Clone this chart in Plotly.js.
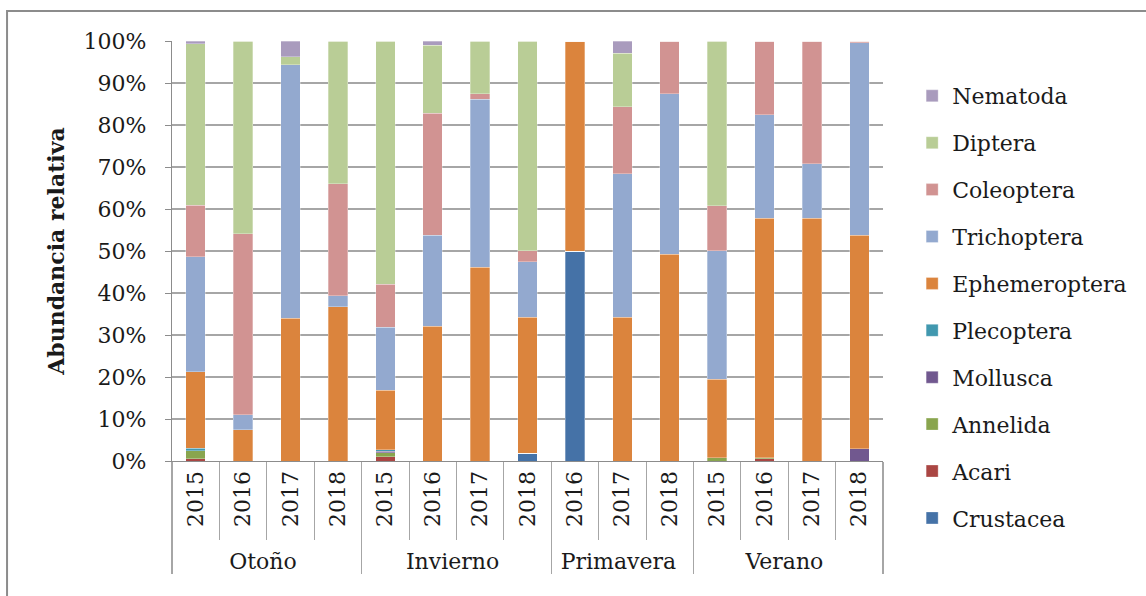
<!DOCTYPE html>
<html>
<head>
<meta charset="utf-8">
<script src="https://cdn.plot.ly/plotly-3.0.1.min.js"></script>
<style>html,body{margin:0;padding:0;background:#fff;}#chart{width:1146px;height:596px;}</style>
</head>
<body>
<div id="chart"></div>
<script>
const seasons = ["Otoño","Otoño","Otoño","Otoño","Invierno","Invierno","Invierno","Invierno","Primavera","Primavera","Primavera","Verano","Verano","Verano","Verano"];
const years = ["2015","2016","2017","2018","2015","2016","2017","2018","2016","2017","2018","2015","2016","2017","2018"];

const Crustacea     = [0,0,0,0, 0,0,0,1.8, 50,0,0, 0,0,0,0];
const Acari         = [0.5,0,0,0, 1.0,0,0,0, 0,0,0, 0,0.5,0,0];
const Annelida      = [2.0,0,0,0, 1.0,0,0,0, 0,0,0, 0.8,0.3,0,0];
const Mollusca      = [0,0,0,0, 0.3,0,0,0, 0,0,0, 0,0,0,2.9];
const Plecoptera    = [0.5,0,0,0, 0.4,0,0,0, 0,0,0, 0,0,0,0];
const Ephemeroptera = [18.2,7.4,34.0,36.7, 14.2,32.1,46.1,32.4, 50,34.2,49.2, 18.7,57.0,57.8,50.9];
const Trichoptera   = [27.4,3.6,60.4,2.7, 14.9,21.7,40.0,13.2, 0,34.2,38.2, 30.6,24.7,13.0,45.8];
const Coleoptera    = [12.3,43.1,0,26.6, 10.3,29.0,1.3,2.7, 0,15.9,12.6, 10.7,17.5,29.2,0.4];
const Diptera       = [38.4,45.9,1.9,34.0, 57.9,16.2,12.6,49.9, 0,12.8,0, 39.2,0,0,0];
const Nematoda      = [0.7,0,3.7,0, 0,1.0,0,0, 0,2.9,0, 0,0,0,0];

const seriesNames = ["Crustacea","Acari","Annelida","Mollusca","Plecoptera","Ephemeroptera","Trichoptera","Coleoptera","Diptera","Nematoda"];
const seriesValues = [Crustacea,Acari,Annelida,Mollusca,Plecoptera,Ephemeroptera,Trichoptera,Coleoptera,Diptera,Nematoda];
const seriesColors = ["#4572A7","#AA4643","#89A54E","#71588F","#4198AF","#DB843D","#93A9CF","#D19392","#B9CD96","#A99BBD"];

const FONT = "DejaVu Serif, Liberation Serif, serif";

const traces = seriesNames.map((n,i)=>({
  type:"bar",
  name:n,
  x:[seasons, years],
  y:seriesValues[i],
  marker:{color:seriesColors[i], line:{color:"rgba(255,255,255,0.5)", width:0.6}},
  legendgroup:n,
  legendrank:100 - i,
  hoverinfo:"name+y"
}));

const layout = {
  width:1146, height:596,
  margin:{l:172, r:263, t:41, b:135},
  paper_bgcolor:"#fff", plot_bgcolor:"#fff",
  barmode:"stack",
  bargap:0.59,
  font:{family:FONT, size:22, color:"#1a1a1a"},
  showlegend:true,
  legend:{
    x:1.041, y:0.919, xanchor:"left", yanchor:"top",
    traceorder:"grouped",
    tracegroupgap:15.3,
    maxheight:540,
    font:{family:FONT, size:22, color:"#1a1a1a"},
    itemwidth:30
  },
  yaxis:{
    range:[0,100], dtick:10, ticksuffix:"%",
    showgrid:true, gridcolor:"#a6a6a6", gridwidth:1.3,
    showline:true, linecolor:"#8c8c8c", linewidth:1.3,
    ticks:"outside", ticklen:6, tickcolor:"#8c8c8c",
    ticklabelstandoff:14,
    zeroline:false,
    tickfont:{family:FONT, size:22, color:"#1a1a1a"},
    title:{text:"<b>Abundancia relativa</b>", font:{family:FONT, size:22, color:"#1a1a1a"}, standoff:12}
  },
  xaxis:{
    type:"multicategory",
    showline:true, linecolor:"#8c8c8c", linewidth:1.3,
    ticks:"outside", ticklen:78, tickcolor:"#a6a6a6",
    tickangle:-90,
    showdividers:true, dividercolor:"#a6a6a6", dividerwidth:1.3,
    tickfont:{family:FONT, size:22, color:"#1a1a1a"}
  },
  shapes:[{
    type:"rect", xref:"paper", yref:"paper",
    x0:-0.232, x1:1.5, y0:-0.5, y1:1.0714,
    line:{color:"#8c8c8c", width:2}, fillcolor:"rgba(0,0,0,0)", layer:"below"
  }]
};

Plotly.newPlot("chart", traces, layout, {displayModeBar:false, staticPlot:true});
</script>
</body>
</html>
